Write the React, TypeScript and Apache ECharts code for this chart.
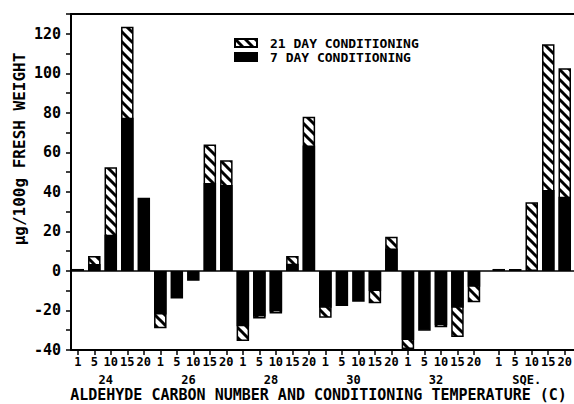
import React, { useEffect, useRef } from 'react';
import * as echarts from 'echarts';

// ---- data ----
const groups = ['24', '26', '28', '30', '32', 'SQE.'];
const temps = ['1', '5', '10', '15', '20'];
// 21 day conditioning (hatched); null = hidden behind the 7 day bar
const day21: (number | null)[] = [
  null, 7.5, 52.5, 123.5, null,
  -29, null, null, 64, 56,
  -35.5, -24, -21.5, 7.5, 78,
  -23.7, null, null, -16.4, 17.3,
  -39.5, null, -28.5, -33.4, -15.8,
  null, null, 34.7, 114.7, 102.5,
];
// 7 day conditioning (solid black)
const day7: (number | null)[] = [
  1, 3.5, 18.3, 77.5, 37,
  -22, -14, -5, 44.5, 43.5,
  -28, -23, -20.5, 3.7, 63.5,
  -18.6, -17.8, -15.6, -10.2, 11.4,
  -35, -30.2, -27.5, -18.6, -8,
  1, 1, null, 41, 37.6,
];
const seriesNames = ['21 DAY CONDITIONING', '7 DAY CONDITIONING'];
const yTickLabels = [-40, -20, 0, 20, 40, 60, 80, 100, 120];
const yTickMarks = [-40, -30, -20, -10, 0, 10, 20, 30, 40, 50, 60, 70, 80, 90, 100, 110, 120, 130];

const FONT = '"DejaVu Sans Mono", monospace';

export default function App() {
  const ref = useRef<HTMLDivElement>(null);

  useEffect(() => {
    document.body.style.margin = '0';
    if (!ref.current) return;
    const chart = echarts.init(ref.current, undefined, { renderer: 'svg' });

    // hatch tile "\\\"
    const S = 10;
    const tile = document.createElement('canvas');
    tile.width = S;
    tile.height = S;
    const ctx = tile.getContext('2d')!;
    ctx.fillStyle = '#fff';
    ctx.fillRect(0, 0, S, S);
    ctx.strokeStyle = '#000';
    ctx.lineWidth = 3;
    for (const k of [-S, 0, S]) {
      ctx.beginPath();
      ctx.moveTo(k - S, -S);
      ctx.lineTo(k + 2 * S, 2 * S);
      ctx.stroke();
    }
    const hatch: any = { image: tile, repeat: 'repeat', imageWidth: S, imageHeight: S };

    // slot positions: groups of 5, half slot extra gap before SQE
    const positions: number[] = [];
    const tickText: string[] = [];
    const groupPos: number[] = [];
    groups.forEach((g, gi) => {
      const start = gi * temps.length + (gi === groups.length - 1 ? 0.5 : 0);
      temps.forEach((t, ti) => {
        positions.push(start + ti);
        tickText.push(t);
      });
      groupPos.push(start + 1.7);
    });
    const findIdx = (arr: number[], v: number) => arr.findIndex((p) => Math.abs(p - v) < 1e-6);

    const xMin = -0.41;
    const xMax = 30.06;

    const labelStyle = { fontFamily: FONT, fontWeight: 'bold' as const, color: '#000' };

    const legendBase = {
      orient: 'vertical',
      left: 229,
      itemWidth: 22,
      itemHeight: 8,
      icon: 'rect',
      selectedMode: false,
      textStyle: { ...labelStyle, fontSize: 13, padding: [0, 0, 0, 8] },
    };

    chart.setOption({
      animation: false,
      backgroundColor: '#fff',
      grid: { left: 71, right: 0, top: 14, bottom: 54, containLabel: false, outerBoundsMode: 'none' },
      legend: [
        { ...legendBase, top: 31.5, data: [seriesNames[0]] },
        { ...legendBase, top: 45.5, data: [seriesNames[1]] },
      ],
      xAxis: [
        {
          type: 'value',
          min: xMin,
          max: xMax,
          position: 'bottom',
          axisLine: { show: true, onZero: false, lineStyle: { color: '#000', width: 2 } },
          axisTick: { show: true, customValues: positions, length: 5, lineStyle: { color: '#000', width: 1.5 } },
          axisLabel: {
            customValues: positions,
            formatter: (v: number) => {
              const i = findIdx(positions, v);
              return i >= 0 ? tickText[i] : '';
            },
            margin: 6,
            fontSize: 12,
            ...labelStyle,
          },
          splitLine: { show: false },
          name: 'ALDEHYDE CARBON NUMBER AND CONDITIONING TEMPERATURE (C)',
          nameLocation: 'middle',
          nameGap: 37,
          nameTextStyle: { ...labelStyle, fontSize: 15, padding: [0, 8, 0, 0] },
        },
        {
          type: 'value',
          min: xMin,
          max: xMax,
          position: 'bottom',
          axisLine: { show: false },
          axisTick: { show: false },
          axisLabel: {
            customValues: groupPos,
            formatter: (v: number) => {
              const i = findIdx(groupPos, v);
              return i >= 0 ? groups[i] : '';
            },
            margin: 24,
            fontSize: 12,
            ...labelStyle,
          },
          splitLine: { show: false },
        },
        {
          type: 'value',
          min: xMin,
          max: xMax,
          position: 'top',
          axisLine: { show: true, onZero: false, lineStyle: { color: '#000', width: 2 } },
          axisTick: { show: false },
          axisLabel: { show: false },
          splitLine: { show: false },
        },
      ],
      yAxis: {
        type: 'value',
        min: -40,
        max: 130,
        axisLine: { show: true, onZero: false, lineStyle: { color: '#000', width: 2 } },
        axisTick: { show: true, customValues: yTickMarks, length: 5, lineStyle: { color: '#000', width: 1.5 } },
        axisLabel: { customValues: yTickLabels, margin: 10, fontSize: 15, ...labelStyle },
        splitLine: { show: false },
      },
      graphic: [
        {
          type: 'text',
          x: 19,
          y: 149,
          rotation: Math.PI / 2,
          style: {
            text: 'μg/100g FRESH WEIGHT',
            font: `bold 16px ${FONT}`,
            fill: '#000',
            textAlign: 'center',
            textVerticalAlign: 'middle',
          },
        },
      ],
      series: [
        {
          name: seriesNames[0],
          type: 'bar',
          xAxisIndex: 0,
          data: positions.map((x, i) => [x, day21[i]]),
          barWidth: 12.5,
          barGap: '-100%',
          itemStyle: { color: hatch, borderColor: '#000', borderWidth: 1.5 },
        },
        {
          name: seriesNames[1],
          type: 'bar',
          xAxisIndex: 0,
          data: positions.map((x, i) => [x, day7[i]]),
          barWidth: 12.5,
          barGap: '-100%',
          itemStyle: { color: '#000', borderColor: '#000', borderWidth: 1.5 },
          markLine: {
            silent: true,
            symbol: ['none', 'none'],
            label: { show: false },
            lineStyle: { color: '#000', width: 1.5, type: 'solid' },
            data: [{ yAxis: 0 }],
          },
        },
      ],
    });

    return () => chart.dispose();
  }, []);

  return <div ref={ref} style={{ width: 574, height: 404 }} />;
}
